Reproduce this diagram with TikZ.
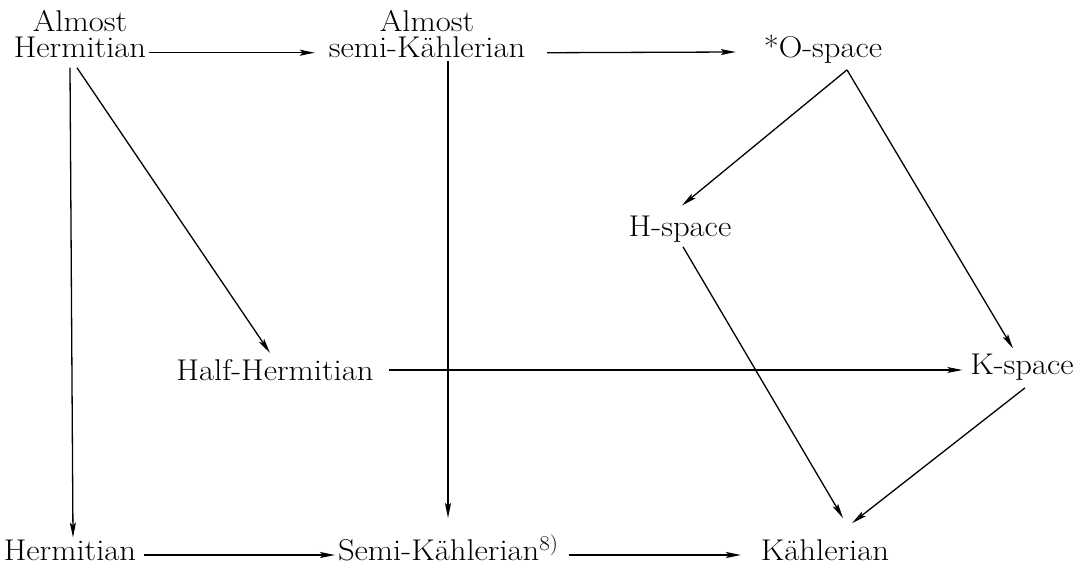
\documentclass[tikz,border=0pt]{standalone}
\usepackage{fontspec}
\setmainfont{Latin Modern Roman}[FakeStretch=1.09]
\usetikzlibrary{arrows.meta,calc}
\begin{document}
\begin{tikzpicture}[x=1pt,y=-1pt,
  lbl/.style={inner sep=0pt,outer sep=0pt,font=\fontsize{30}{26}\selectfont},
  arr/.style={line width=1.3pt,-{Stealth[length=15pt,width=6pt,inset=3pt]}}]
\useasboundingbox[fill=white] (0,0) rectangle (1083,572);
% nodes
\node[lbl,align=center] (AH) at (80,34) {Almost\\Hermitian};
\node[lbl,align=center] (ASK) at (427,34) {Almost\\semi-Kählerian};
\node[lbl,anchor=base] (O) at (823,58) {*O-space};
\node[lbl,anchor=base] (Hs) at (680,236) {H-space};
\node[lbl,anchor=base] (HH) at (275,380) {Half-Hermitian};
\node[lbl,anchor=base] (Ks) at (1022,374) {K-space};
\node[lbl,anchor=base] (Her) at (70,560) {Hermitian};
\node[lbl,anchor=base west] (SK) at (338,560) {Semi-Kählerian\textsuperscript{8)}};
\node[lbl,anchor=base] (Ka) at (825,560) {Kählerian};
% connectors
\draw[arr] ([xshift=3pt,yshift=5pt]AH.south east) -- ([xshift=-14pt,yshift=5pt]ASK.south west);
\draw[arr] ([xshift=22pt,yshift=5pt]ASK.south east) -- ([xshift=-28pt,yshift=6pt]O.base west);
\draw[arr] ([xshift=-10pt,yshift=-10pt]AH.south) -- ([xshift=3pt,yshift=2pt]Her.north);
\draw[arr] ([xshift=-3pt,yshift=-10pt]AH.south) -- ([xshift=-5pt,yshift=6pt]HH.north);
\draw[arr] ([xshift=21pt,yshift=-3pt]ASK.south) -- ($([xshift=21pt]ASK.south |- Ka.base)+(0,-42)$);
\draw[arr] ([xshift=24pt,yshift=-6pt]O.south) -- ([xshift=2pt,yshift=10pt]Hs.north);
\draw[arr] ([xshift=24pt,yshift=-6pt]O.south) -- ([xshift=-9pt,yshift=5pt]Ks.north);
\draw[arr] ([xshift=3pt,yshift=-5pt]Hs.south) -- ([xshift=18pt,yshift=21pt]Ka.north);
\draw[arr] ([xshift=3pt,yshift=-8pt]Ks.south) -- ([xshift=27pt,yshift=16pt]Ka.north);
\draw[arr] ([xshift=15pt,yshift=10pt]HH.base east) -- ([xshift=-8pt,yshift=4pt]Ks.base west);
\draw[arr] ([xshift=8pt,yshift=5pt]Her.base east) -- ([xshift=-3pt,yshift=5pt]SK.base west);
\draw[arr] ([xshift=10pt,yshift=5pt]SK.base east) -- ([xshift=-20pt,yshift=5pt]Ka.base west);
\end{tikzpicture}
\end{document}
